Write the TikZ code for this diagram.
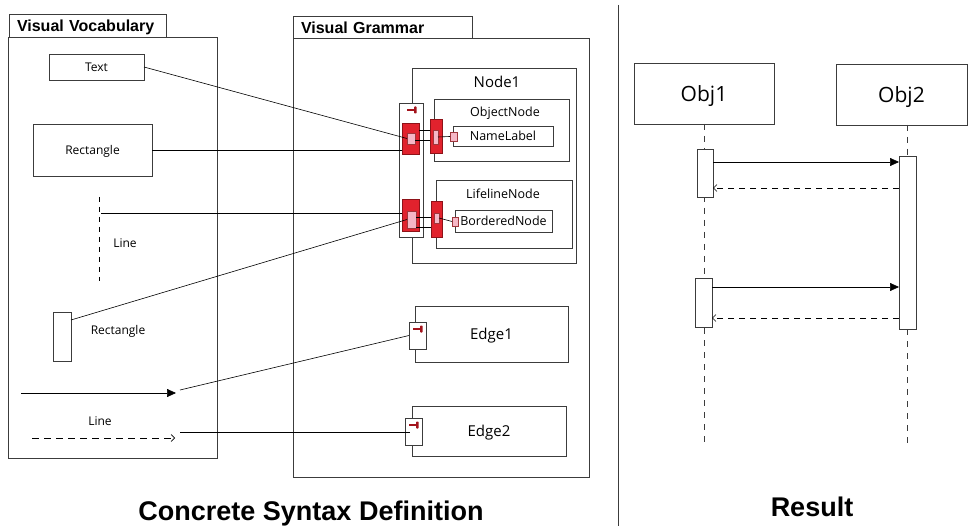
\documentclass[tikz,border=0pt]{standalone}
\usepackage{fontspec}
\setmainfont{Open Sans}
\newfontfamily\titlefont{Liberation Sans}
\usetikzlibrary{arrows.meta,positioning}

\definecolor{portred}{HTML}{E1222D}
\definecolor{portdark}{HTML}{8E1218}
\definecolor{portpink}{HTML}{F5B7C6}
\definecolor{pindark}{HTML}{A3141C}
\definecolor{boxgray}{HTML}{3C3C3C}

\tikzset{
  box/.style={draw=boxgray, line width=0.8pt, fill=white, inner sep=0pt, outer sep=0pt, anchor=north west},
  redport/.style={box, fill=portred, draw=portdark},
  pinkport/.style={box, fill=portpink, draw=portdark!85},
  tab/.style={box, font=\titlefont\bfseries\fontsize{16}{18}\selectfont, inner xsep=8pt,
    align=left, minimum height=23, text height=11.5, text depth=0},
  txt/.style={font=\fontsize{#1}{#1}\selectfont, text height=0.72*#1, text depth=0, inner sep=0pt},
  conn/.style={line width=0.6pt, black},
  dashline/.style={line width=0.6pt, dash pattern=on 5pt off 5pt},
  pinmark/.pic={
    \draw[pindark, line width=1.3pt] (-7,0) -- (0,0);
    \fill[pindark, rounded corners=0.8pt] (0,-3.5) rectangle (2.6,3.5);
  }
}

\begin{document}
\begin{tikzpicture}[x=1pt, y=-1pt]
    \fill[white] (0,0) rectangle (968,526);
    \useasboundingbox (0,0) rectangle (968,526);

    % Visual vocabulary
    \node[tab, text width=141] (vocabtab) at (9,14) {Visual Vocabulary};
    \node[box, minimum width=209, minimum height=421] (vocab) at (8,37) {};
    \node[box, txt=12, minimum width=95, minimum height=26] (textbox) at (49,54) {Text};
    \node[box, txt=12, minimum width=119, minimum height=52] (rectbox) at (33,124) {Rectangle};
    \coordinate (vlinetop) at (99,197);
    \coordinate (vlinebot) at (99,281);
    \coordinate (vlinestub) at (101,213);
    \draw[dashline] (vlinetop) -- (vlinebot);
    \node[txt=12, anchor=base] (linelbl) at (125,248) {Line};
    \node[box, minimum width=18, minimum height=49] (smallrect) at (53,312) {};
    \node[txt=12, anchor=base] (smallrectlbl) at (118,334) {Rectangle};
    \coordinate (arrowstart) at (21,393);
    \coordinate (arrowend) at (176,393);
    \draw[line width=0.7pt, -{Triangle[length=9pt,width=8pt]}] (arrowstart) -- (arrowend);
    \node[txt=12, anchor=base] (dashlbl) at (100,425) {Line};
    \coordinate (dashstart) at (32,438);
    \coordinate (dashend) at (175,438);
    \draw[line width=0.6pt, dash pattern=on 7pt off 5pt, -{Straight Barb[length=3.5pt,width=7pt]}] (dashstart) -- (dashend);

    % Visual grammar
    \node[tab, text width=163] (grammartab) at (293,16) {Visual Grammar};
    \node[box, minimum width=296, minimum height=439] (grammar) at (293,38) {};

    % Node1 with its compartments
    \node[box, minimum width=164, minimum height=195] (node1) at (412,68) {};
    \node[txt=15, anchor=base] (node1lbl) at (497,88) {Node1};
    \node[box, minimum width=24, minimum height=134] (nodeport) at (399,103) {};
    \pic at (414,110) {pinmark};
    \node[redport, minimum width=17, minimum height=31] (redA) at (402,123) {};
    \node[pinkport, minimum width=8, minimum height=11] (pinkA) at (407,133) {};
    \node[redport, minimum width=17, minimum height=32] (redB) at (402,199) {};
    \node[pinkport, minimum width=9, minimum height=17] (pinkB) at (407,211) {};

    \node[box, minimum width=135, minimum height=62] (objnode) at (434,99) {};
    \node[txt=12.5, anchor=base] (objnodelbl) at (505,117) {ObjectNode};
    \node[redport, minimum width=12, minimum height=34] (redO) at (430,119) {};
    \node[pinkport, minimum width=5, minimum height=14] (pinkO) at (433,130) {};
    \node[box, txt=12.5, minimum width=100, minimum height=20] (namelabel) at (453,126) {NameLabel};
    \node[pinkport, minimum width=7, minimum height=9] (pinkNL) at (450,132) {};

    \node[box, minimum width=136, minimum height=68] (lifenode) at (436,180) {};
    \node[txt=12.5, anchor=base] (lifenodelbl) at (503,199) {LifelineNode};
    \node[redport, minimum width=11, minimum height=36] (redL) at (431,201) {};
    \node[pinkport, minimum width=5, minimum height=10] (pinkL) at (434,213) {};
    \node[box, txt=12.5, minimum width=97, minimum height=22] (bordered) at (455,210) {BorderedNode};
    \node[pinkport, minimum width=6, minimum height=9] (pinkBN) at (452,217) {};

    \draw[conn] (redA.east |- 0,130) -- (redO.west |- 0,130);
    \draw[conn] (pinkA.east |- 0,140) -- (redO.west |- 0,140);
    \draw[conn] (pinkO.east) -- (pinkNL.west);
    \draw[conn] (pinkB.east |- 0,217) -- (redL.west |- 0,217);
    \draw[conn] (pinkB.east |- 0,227) -- (redL.west |- 0,227);
    \draw[conn] (pinkL.east) -- (pinkBN.west);

    % Edges
    \node[box, txt=15, minimum width=153, minimum height=56] (edge1) at (415,306) {Edge1};
    \node[box, minimum width=17, minimum height=27] (port1) at (409,322) {};
    \pic at (420,329) {pinmark};
    \node[box, txt=15, minimum width=154, minimum height=50] (edge2) at (412,406) {Edge2};
    \node[box, minimum width=17, minimum height=27] (port2) at (405,418) {};
    \pic at (416,425) {pinmark};

    % Mappings
    \draw[conn] (textbox.east) -- (pinkA.west);
    \draw[conn] (rectbox.east) -- (rectbox.east -| redA.west);
    \draw[conn] (vlinestub) -- (vlinestub -| redB.west);
    \draw[conn] ([yshift=-8pt]smallrect.north east) -- (pinkB.west);
    \draw[conn] ([xshift=4pt,yshift=3pt]arrowend) -- (port1.west);
    \draw[conn] ([xshift=5pt,yshift=6pt]dashend) -- ([xshift=5pt,yshift=6pt]dashend -| port2.west);

    % Divider
    \draw[line width=0.8pt, boxgray] (618,5) -- (618,526);

    % Result
    \node[box, txt=21, minimum width=140, minimum height=61] (obj1) at (634,63) {Obj1};
    \node[box, txt=21, minimum width=131, minimum height=61] (obj2) at (836,64) {Obj2};
    \draw[dashline, dash pattern=on 6pt off 6pt, boxgray] (obj1.south) -- (obj1.south |- 0,443);
    \draw[dashline, dash pattern=on 6pt off 6pt, boxgray] (907,125) -- (907,445);
    \node[box, minimum width=16, minimum height=48] (act1a) at (697,149) {};
    \node[box, minimum width=17, minimum height=49] (act1b) at (695,278) {};
    \node[box, minimum width=17, minimum height=173] (act2) at (899,156) {};
    \draw[conn, -{Triangle[length=9pt,width=8pt]}] (act1a.east |- 0,162) -- (act2.west |- 0,162);
    \draw[conn, dashed, dash pattern=on 6pt off 5pt, -{Straight Barb[length=3.5pt,width=7pt]}] (act2.west |- 0,188) -- (act1a.east |- 0,188);
    \draw[conn, -{Triangle[length=9pt,width=8pt]}] (act1b.east |- 0,287) -- (act2.west |- 0,287);
    \draw[conn, dashed, dash pattern=on 6pt off 5pt, -{Straight Barb[length=3.5pt,width=7pt]}] (act2.west |- 0,318) -- (act1b.east |- 0,318);

    % Captions
    \node[font=\titlefont\bfseries\fontsize{27}{30}\selectfont, anchor=base] (syntaxcap) at (311,520) {Concrete Syntax Definition};
    \node[font=\titlefont\bfseries\fontsize{27}{30}\selectfont, anchor=base] (resultcap) at (812,516) {Result};
\end{tikzpicture}
\end{document}
